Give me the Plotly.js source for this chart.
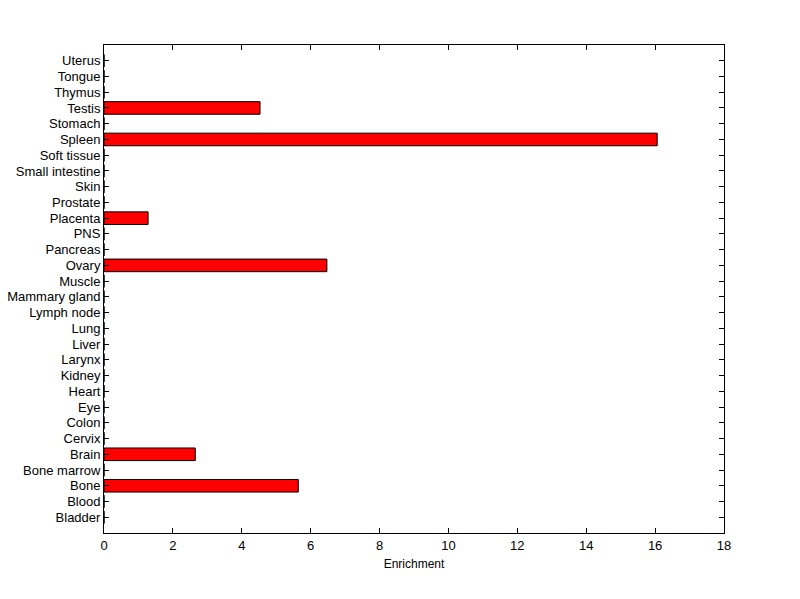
<!DOCTYPE html>
<html>
<head>
<meta charset="utf-8">
<script src="https://cdn.plot.ly/plotly-3.0.1.min.js"></script>
<style>html,body{margin:0;padding:0;background:#fff;}#chart{width:800px;height:599px;}</style>
</head>
<body>
<div id="chart"></div>
<script>
const tissues = ["Bladder","Blood","Bone","Bone marrow","Brain","Cervix","Colon","Eye","Heart","Kidney","Larynx","Liver","Lung","Lymph node","Mammary gland","Muscle","Ovary","Pancreas","PNS","Placenta","Prostate","Skin","Small intestine","Soft tissue","Spleen","Stomach","Testis","Thymus","Tongue","Uterus"];
const enrichment = [0,0,5.64,0,2.65,0,0,0,0,0,0,0,0,0,0,0,6.47,0,0,1.28,0,0,0,0,16.06,0,4.53,0,0,0];
const xTicks = [0,2,4,6,8,10,12,14,16,18];

const idx = tissues.map((_, i) => i);
const trace = {
  type: 'bar',
  orientation: 'h',
  x: enrichment,
  y: idx,
  width: 0.8,
  marker: {color: '#ff0000', line: {color: '#000000', width: 1}},
  hoverinfo: 'x+text',
  text: tissues,
  textposition: 'none'
};
const font = {family: 'Liberation Sans, Arial, sans-serif', size: 13, color: '#000'};
const layout = {
  width: 800, height: 599,
  margin: {l: 104, r: 76, t: 45, b: 66, pad: 0},
  paper_bgcolor: '#fff', plot_bgcolor: '#fff',
  showlegend: false,
  font: font,
  xaxis: {
    range: [0, 18], tickvals: xTicks, ticktext: xTicks.map(String),
    ticks: 'inside', ticklen: 5, tickcolor: '#000', tickwidth: 1,
    showline: true, linecolor: '#000', linewidth: 1, mirror: 'allticks',
    showgrid: false, zeroline: false,
    title: {text: 'Enrichment', font: {family: font.family, size: 12, color: '#000'}, standoff: 8},
    tickfont: font
  },
  yaxis: {
    range: [-1, 30], tickvals: idx, ticktext: tissues,
    ticks: 'inside', ticklen: 5, tickcolor: '#000', tickwidth: 1,
    showline: true, linecolor: '#000', linewidth: 1, mirror: 'allticks',
    showgrid: false, zeroline: false,
    tickfont: font
  }
};
Plotly.newPlot('chart', [trace], layout, {displayModeBar: false, staticPlot: true});
</script>
</body>
</html>
